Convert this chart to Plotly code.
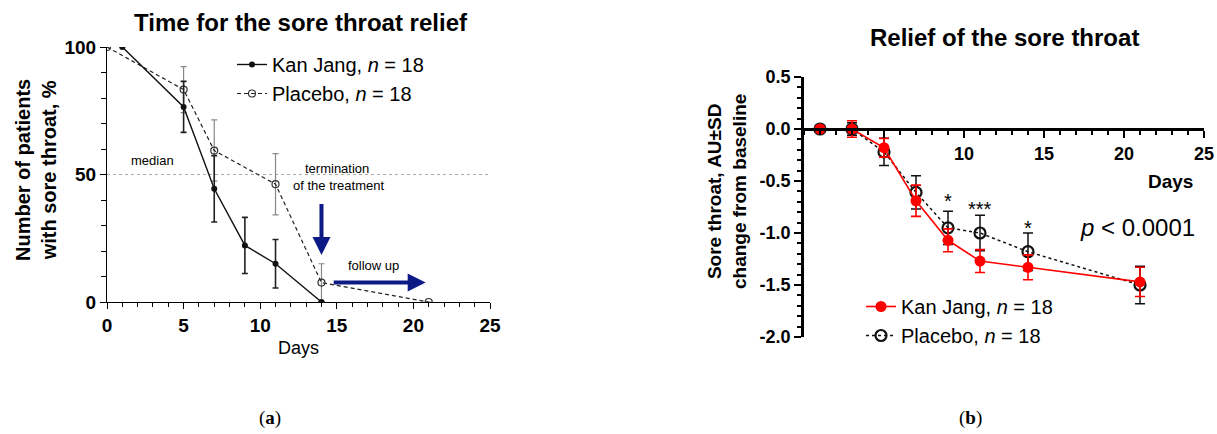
import plotly.graph_objects as go

# ---------------- data: panel (a) ----------------
days_a_kan = [1, 5, 7, 9, 11, 14]
kan_a = [100, 76.5, 44.4, 22.2, 15.0, 0]
kan_a_err = [0, 10, 13, 11, 9.5, 0]

days_a_pla = [0, 5, 7, 11, 14, 21]
pla_a = [100, 83.3, 59.4, 46.2, 7.6, 0]
pla_a_err = [0, 9, 12, 12, 7.4, 0]

# ---------------- data: panel (b) ----------------
days_b = [1, 3, 5, 7, 9, 11, 14, 21]
kan_b = [0, 0, -0.18, -0.69, -1.07, -1.27, -1.33, -1.47]
kan_b_sd = [0, 0.08, 0.09, 0.15, 0.11, 0.11, 0.12, 0.14]
pla_b = [0, 0, -0.22, -0.61, -0.95, -1.00, -1.18, -1.50]
pla_b_sd = [0, 0.06, 0.13, 0.16, 0.16, 0.17, 0.18, 0.18]

sig_days = [9, 11, 14]
sig_labels = ["*", "***", "*"]
sig_y = [-0.69, -0.77, -0.95]

ticks_a_x = [0, 5, 10, 15, 20, 25]
ticks_a_y = [0, 50, 100]
ticks_b_x = [5, 10, 15, 20, 25]
ticks_b_x_text = ["", "10", "15", "20", "25"]
ticks_b_y = [-2.0, -1.5, -1.0, -0.5, 0.0, 0.5]
ticks_b_y_text = ["-2.0", "-1.5", "-1.0", "-0.5", "0.0", "0.5"]

W, H = 1217, 434
FONT = "Liberation Sans"
NAVY = "#0c1a86"

def px_x(p):
    return p / W

def px_y(p):
    return 1 - p / H

fig = go.Figure()

# panel (a) traces
fig.add_trace(go.Scatter(
    x=days_a_pla, y=pla_a, mode="lines+markers",
    name="Placebo, <i>n</i> = 18",
    line=dict(color="#222", width=1.2, dash="4px,3px"),
    marker=dict(symbol="circle-open", size=7, color="#333", line=dict(width=1.2)),
    error_y=dict(type="data", array=pla_a_err, color="#888", thickness=1.2, width=3),
    xaxis="x", yaxis="y", legend="legend", legendrank=2,
))
fig.add_trace(go.Scatter(
    x=days_a_kan, y=kan_a, mode="lines+markers",
    name="Kan Jang, <i>n</i> = 18",
    line=dict(color="#111", width=1.4),
    marker=dict(symbol="circle", size=6, color="#111"),
    error_y=dict(type="data", array=kan_a_err, color="#222", thickness=1.6, width=3),
    xaxis="x", yaxis="y", legend="legend", legendrank=1,
))

# panel (b) traces
fig.add_trace(go.Scatter(
    x=days_b, y=pla_b, mode="lines+markers",
    name="Placebo, <i>n</i> = 18",
    line=dict(color="#111", width=1.5, dash="dot"),
    marker=dict(symbol="circle-open", size=11, color="#111", line=dict(width=2.2)),
    error_y=dict(type="data", array=pla_b_sd, color="#111", thickness=1.5, width=5),
    xaxis="x2", yaxis="y2", legend="legend2", legendrank=2,
))
fig.add_trace(go.Scatter(
    x=days_b, y=kan_b, mode="lines+markers",
    name="Kan Jang, <i>n</i> = 18",
    line=dict(color="#ff0000", width=1.6),
    marker=dict(symbol="circle", size=11, color="#ff0000"),
    error_y=dict(type="data", array=kan_b_sd, color="#ff0000", thickness=1.6, width=5),
    xaxis="x2", yaxis="y2", legend="legend2", legendrank=1,
))

tick_a = dict(family=FONT, size=19, color="black", weight="bold")
tick_b = dict(family=FONT, size=18, color="black", weight="bold")

fig.update_layout(
    width=W, height=H,
    margin=dict(l=0, r=0, t=0, b=0, pad=0, autoexpand=False),
    paper_bgcolor="white", plot_bgcolor="white",
    font=dict(family=FONT, color="black"),
    xaxis=dict(
        domain=[px_x(107), px_x(490)], range=[0, 25], anchor="y",
        showline=True, linecolor="black", linewidth=1, showgrid=False, zeroline=False,
        tickmode="array", tickvals=ticks_a_x, ticks="outside", ticklen=6, tickwidth=1,
        tickcolor="black", tickfont=tick_a,
        minor=dict(ticks="outside", dtick=1, ticklen=4, tickwidth=1, tickcolor="black", showgrid=False),
    ),
    yaxis=dict(
        domain=[px_y(302), px_y(47)], range=[0, 100], anchor="x",
        showline=True, linecolor="black", linewidth=1, showgrid=False, zeroline=False,
        tickmode="array", tickvals=ticks_a_y, ticks="outside", ticklen=6, tickwidth=1,
        tickcolor="black", tickfont=tick_a,
        minor=dict(ticks="outside", dtick=10, ticklen=5, tickwidth=1, tickcolor="black", showgrid=False),
    ),
    yaxis3=dict(
        overlaying="y", side="right", anchor="x", range=[0, 100],
        showline=True, linecolor="black", linewidth=1, showgrid=False, zeroline=False,
        tickmode="array", tickvals=ticks_a_y, ticks="outside", ticklen=6, tickwidth=1,
        tickcolor="black", tickfont=tick_a,
        minor=dict(ticks="outside", dtick=10, ticklen=5, tickwidth=1, tickcolor="black", showgrid=False),
    ),
    xaxis2=dict(
        domain=[px_x(804), px_x(1204)], range=[0, 25], anchor="free", position=px_y(129.3),
        showline=True, linecolor="black", linewidth=2.5, showgrid=False, zeroline=False,
        tickmode="array", tickvals=ticks_b_x, ticktext=ticks_b_x_text,
        ticks="outside", ticklen=7, tickwidth=2, tickcolor="black", tickfont=tick_b,
        minor=dict(ticks="outside", dtick=1, ticklen=4, tickwidth=1.5, tickcolor="black", showgrid=False),
    ),
    yaxis2=dict(
        domain=[px_y(337), px_y(77)], range=[-2.0, 0.5], anchor="x2",
        showline=True, linecolor="black", linewidth=2.5, showgrid=False, zeroline=False,
        tickmode="array", tickvals=ticks_b_y, ticktext=ticks_b_y_text,
        ticks="outside", ticklen=7, tickwidth=2, tickcolor="black", tickfont=tick_b,
        minor=dict(ticks="outside", dtick=0.1, ticklen=4, tickwidth=1.5, tickcolor="black", showgrid=False),
    ),
    legend=dict(
        x=px_x(232), y=px_y(45), xanchor="left", yanchor="top",
        font=dict(family=FONT, size=20, color="black"),
        bgcolor="rgba(0,0,0,0)", tracegroupgap=0, itemwidth=30,
    ),
    legend2=dict(
        x=px_x(861), y=px_y(287), xanchor="left", yanchor="top",
        font=dict(family=FONT, size=20, color="black"),
        bgcolor="rgba(0,0,0,0)", tracegroupgap=0, itemwidth=30,
    ),
)

# median line
fig.add_shape(type="line", xref="x", yref="y", x0=0, x1=25, y0=50, y1=50,
              line=dict(color="#aaaaaa", width=1, dash="dot"), layer="below")

ann = []

def label(text, x, y, size, **kw):
    d = dict(text=text, x=x, y=y, xref="paper", yref="paper", showarrow=False,
             xanchor="center", yanchor="middle", font=dict(size=size, family=kw.pop("family", FONT)))
    d.update(kw)
    ann.append(d)

# titles
label("<b>Time for the sore throat relief</b>", px_x(301), px_y(22), 24)
label("<b>Relief of the sore throat</b>", px_x(1004), px_y(38), 24)
# axis titles
label("<b>Number of patients<br>with sore throat, %</b>", px_x(36), px_y(170), 20, textangle=-90)
label("Days", px_x(298), px_y(348), 18)
label("<b>Sore throat, AU±SD<br>change from baseline</b>", px_x(727), px_y(192), 19, textangle=-90)
label("<b>Days</b>", px_x(1170), px_y(181), 19)
label("<i>p</i> < 0.0001", px_x(1137), px_y(227), 24)
# panel labels
label("(<b>a</b>)", px_x(270), px_y(418), 19, family="Liberation Serif")
label("(<b>b</b>)", px_x(970), px_y(418), 19, family="Liberation Serif")

# panel (a) notes
for t, xv, yv in [("median", 3.0, 55.5), ("termination", 15.0, 52.5),
                  ("of the treatment", 15.1, 45.5), ("follow up", 17.4, 14.2)]:
    ann.append(dict(text=t, x=xv, y=yv, xref="x", yref="y", showarrow=False,
                    xanchor="center", yanchor="middle", font=dict(size=13)))
# arrows
ann.append(dict(text="", x=14, y=18.4, ax=14, ay=39, xref="x", yref="y", axref="x", ayref="y",
                showarrow=True, arrowhead=2, arrowwidth=4, arrowsize=0.9, arrowcolor=NAVY))
ann.append(dict(text="", x=20.8, y=7.6, ax=14.7, ay=7.6, xref="x", yref="y", axref="x", ayref="y",
                showarrow=True, arrowhead=2, arrowwidth=4, arrowsize=0.9, arrowcolor=NAVY))
# significance
for d, s, yv in zip(sig_days, sig_labels, sig_y):
    ann.append(dict(text=s, x=d, y=yv, xref="x2", yref="y2", showarrow=False,
                    xanchor="center", yanchor="middle", font=dict(size=20)))

fig.update_layout(annotations=ann)

fig.write_html("out.html", config={"displayModeBar": False},
               post_script="document.body.style.margin='0px';")
